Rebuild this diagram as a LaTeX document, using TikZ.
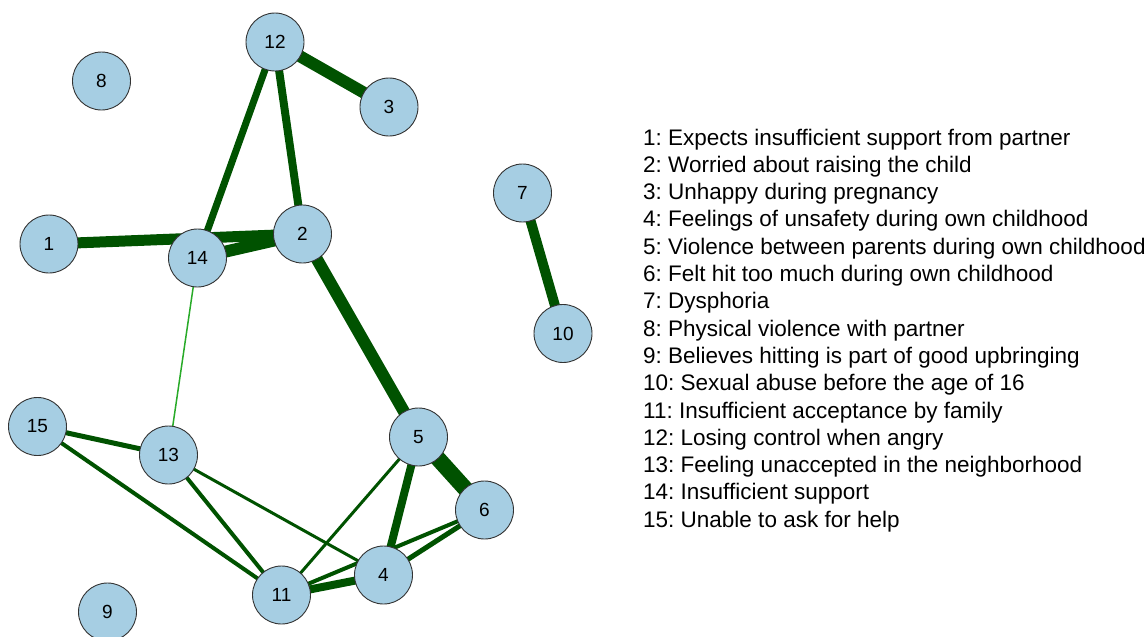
\documentclass[tikz,border=0pt]{standalone}
\usepackage{fontspec}
\setmainfont{Liberation Sans}
\usetikzlibrary{backgrounds}
\frenchspacing
\definecolor{nodefill}{HTML}{A6CEE3}
\definecolor{nodeline}{HTML}{333333}
\definecolor{edgedark}{RGB}{0,82,0}
\definecolor{edgelight}{RGB}{40,170,40}
\tikzset{
  vnode/.style={circle, draw=nodeline, line width=0.9pt, fill=nodefill, minimum size=58pt, inner sep=0pt, font=\fontsize{19}{19}\selectfont},
  edge/.style={draw=edgedark, line cap=butt},
  legendtxt/.style={anchor=base west, inner sep=0pt, font=\fontsize{22.5}{22.5}\selectfont}
}
\begin{document}
\begin{tikzpicture}[x=1pt,y=-1pt]
\useasboundingbox (0,0) rectangle (1146,637);
\node[vnode] (n1) at (49,244) {1};
\node[vnode] (n2) at (302.5,234) {2};
\node[vnode] (n3) at (389,107) {3};
\node[vnode] (n4) at (383.5,575) {4};
\node[vnode] (n5) at (418.5,437) {5};
\node[vnode] (n6) at (484.5,510) {6};
\node[vnode] (n7) at (522.5,193) {7};
\node[vnode] (n8) at (101.5,81) {8};
\node[vnode] (n9) at (107.5,612) {9};
\node[vnode] (n10) at (563,333.5) {10};
\node[vnode] (n11) at (281.5,595) {11};
\node[vnode] (n12) at (275,42) {12};
\node[vnode] (n13) at (168.5,455) {13};
\node[vnode] (n14) at (197.5,258) {14};
\node[vnode] (n15) at (37.5,426.5) {15};
\begin{scope}[on background layer]
\draw[edge, line width=12pt] (n12.center) -- (n3.center);
\draw[edge, line width=7pt] (n12.center) -- (n14.center);
\draw[edge, line width=8pt] (n12.center) -- (n2.center);
\draw[edge, line width=11pt] (n1.center) -- (n2.center);
\draw[edge, line width=12pt] (n14.center) -- (n2.center);
\draw[edge, line width=12pt] (n2.center) -- (n5.center);
\draw[edge, line width=16pt] (n5.center) -- (n6.center);
\draw[edge, line width=10pt] (n7.center) -- (n10.center);
\draw[draw=edgelight, line width=1.5pt] (n14.center) -- (n13.center);
\draw[edge, line width=5pt] (n15.center) -- (n13.center);
\draw[edge, line width=4pt] (n15.center) -- (n11.center);
\draw[edge, line width=4pt] (n13.center) -- (n11.center);
\draw[edge, line width=3pt] (n13.center) -- (n4.center);
\draw[edge, line width=3pt] (n5.center) -- (n11.center);
\draw[edge, line width=8pt] (n5.center) -- (n4.center);
\draw[edge, line width=5pt] (n6.center) -- (n4.center);
\draw[edge, line width=4pt] (n6.center) -- (n11.center);
\draw[edge, line width=8pt] (n4.center) -- (n11.center);
\end{scope}
\foreach \i/\t [count=\k from 0] in {
 1/Expects insufficient support from partner,
 2/Worried about raising the child,
 3/Unhappy during pregnancy,
 4/Feelings of unsafety during own childhood,
 5/Violence between parents during own childhood,
 6/Felt hit too much during own childhood,
 7/Dysphoria,
 8/Physical violence with partner,
 9/Believes hitting is part of good upbringing,
 10/Sexual abuse before the age of 16,
 11/Insufficient acceptance by family,
 12/Losing control when angry,
 13/Feeling unaccepted in the neighborhood,
 14/Insufficient support,
 15/Unable to ask for help}
{
  \node[legendtxt] (leg\i) at (643,{145+27.3*\k}) {\i: \t};
}
\end{tikzpicture}
\end{document}
